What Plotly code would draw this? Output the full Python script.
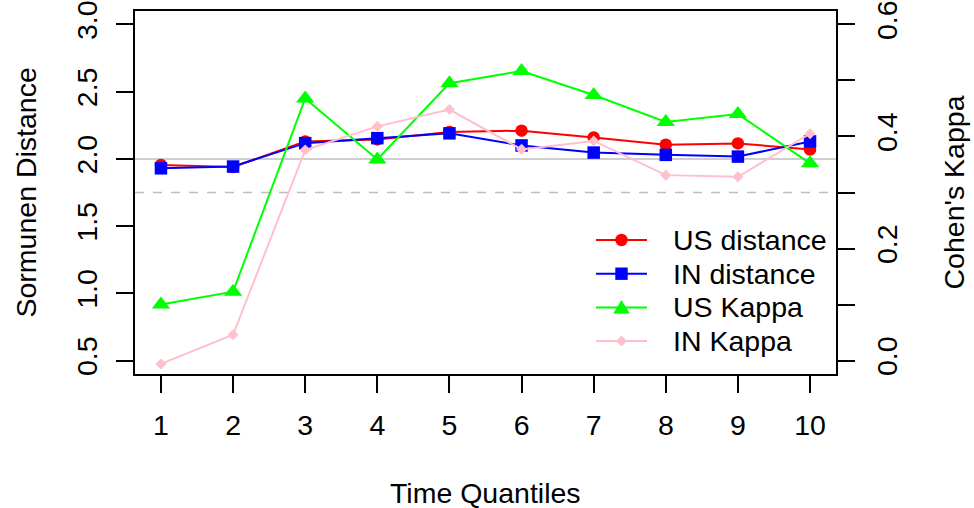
import plotly.graph_objects as go

quantiles = [1, 2, 3, 4, 5, 6, 7, 8, 9, 10]
us_distance = [1.955, 1.94, 2.13, 2.145, 2.20, 2.21, 2.16, 2.105, 2.115, 2.07]
in_distance = [1.93, 1.943, 2.117, 2.154, 2.19, 2.10, 2.047, 2.03, 2.017, 2.13]
us_kappa = [0.10, 0.123, 0.468, 0.359, 0.495, 0.517, 0.474, 0.426, 0.44, 0.352]
in_kappa = [-0.006, 0.046, 0.376, 0.418, 0.448, 0.377, 0.392, 0.331, 0.328, 0.405]
left_ticks = [0.5, 1.0, 1.5, 2.0, 2.5, 3.0]
right_ticks = [0.0, 0.1, 0.2, 0.3, 0.4, 0.5, 0.6]
right_ticklabels = ["0.0", "", "0.2", "", "0.4", "", "0.6"]
solid_ref = 2.0
dashed_ref = 1.75
series_names = ["US distance", "IN distance", "US Kappa", "IN Kappa"]
series_colors = ["#FF0000", "#0000FF", "#00FF00", "#FFC0CB"]

FONT = "Liberation Sans, Arial, sans-serif"
FS = 28.5

# plot area in pixels
L, R, T, B = 135, 836, 11, 374
W, H = R - L, B - T

def px(xp):
    return (xp - L) / W

def py(yp):
    return (B - yp) / H

fig = go.Figure()
fig.add_trace(go.Scatter(x=quantiles, y=us_distance, name=series_names[0], mode="lines+markers",
                         line=dict(color=series_colors[0], width=2),
                         marker=dict(symbol="circle", size=12.5, color=series_colors[0])))
fig.add_trace(go.Scatter(x=quantiles, y=in_distance, name=series_names[1], mode="lines+markers",
                         line=dict(color=series_colors[1], width=2),
                         marker=dict(symbol="square", size=12.5, color=series_colors[1])))
fig.add_trace(go.Scatter(x=quantiles, y=us_kappa, name=series_names[2], mode="lines+markers", yaxis="y2",
                         line=dict(color=series_colors[2], width=2),
                         marker=dict(symbol="triangle-up", size=16, color=series_colors[2])))
fig.add_trace(go.Scatter(x=quantiles, y=in_kappa, name=series_names[3], mode="lines+markers", yaxis="y2",
                         line=dict(color=series_colors[3], width=2),
                         marker=dict(symbol="diamond", size=8.5, color=series_colors[3])))

fig.add_shape(type="line", xref="paper", x0=0, x1=1, yref="y", y0=solid_ref, y1=solid_ref,
              line=dict(color="#BEBEBE", width=1.5), layer="below")
fig.add_shape(type="line", xref="paper", x0=0, x1=1, yref="y", y0=dashed_ref, y1=dashed_ref,
              line=dict(color="#BEBEBE", width=1.5, dash="dash"), layer="below")

# custom legend (R style, no box)
marker_paths = [
    None,  # circle
    "M-6.2,-6.2 L6.2,-6.2 L6.2,6.2 L-6.2,6.2 Z",  # square
    "M-8.3,-6 L8.3,-6 L0,7.5 Z",  # triangle up
    "M0,-5.4 L5.4,0 L0,5.4 L-5.4,0 Z",  # diamond
]
row_y = [240, 273.7, 307.4, 341]
line_x0, line_x1, text_x = 596, 647, 671
annotations = []
for i, name in enumerate(series_names):
    yy = py(row_y[i])
    c = series_colors[i]
    fig.add_shape(type="line", xref="paper", yref="paper", x0=px(line_x0), x1=px(line_x1),
                  y0=yy, y1=yy, line=dict(color=c, width=2))
    xc = px((line_x0 + line_x1) / 2)
    if marker_paths[i] is None:
        fig.add_shape(type="circle", xref="paper", yref="paper", xsizemode="pixel", ysizemode="pixel",
                      xanchor=xc, yanchor=yy, x0=-6.2, x1=6.2, y0=-6.2, y1=6.2,
                      fillcolor=c, line=dict(width=0))
    else:
        fig.add_shape(type="path", xref="paper", yref="paper", xsizemode="pixel", ysizemode="pixel",
                      xanchor=xc, yanchor=yy, path=marker_paths[i],
                      fillcolor=c, line=dict(width=0))
    annotations.append(dict(text=name, xref="paper", yref="paper", x=px(text_x), y=yy,
                            xanchor="left", yanchor="middle", showarrow=False,
                            font=dict(family=FONT, size=FS, color="black")))

axis_common = dict(showgrid=False, zeroline=False, ticks="outside", ticklen=17, tickwidth=1.5,
                   tickcolor="black", tickfont=dict(family=FONT, size=FS, color="black"),
                   automargin=False, ticklabelstandoff=8)

annotations += [
    dict(text="Time Quantiles", xref="paper", yref="paper", x=0.5, y=py(493),
         showarrow=False, yanchor="middle", font=dict(family=FONT, size=FS)),
    dict(text="Sormunen Distance", xref="paper", yref="paper", x=px(25),
         y=0.5, showarrow=False, textangle=-90, xanchor="center", font=dict(family=FONT, size=FS)),
    dict(text="Cohen's Kappa", xref="paper", yref="paper", x=px(953),
         y=0.5, showarrow=False, textangle=-90, xanchor="center", font=dict(family=FONT, size=FS)),
]

fig.update_layout(
    width=974, height=508,
    margin=dict(l=L, r=974 - R, t=T, b=508 - B, autoexpand=False),
    paper_bgcolor="white", plot_bgcolor="white",
    font=dict(family=FONT, size=FS, color="black"),
    showlegend=False,
    xaxis=dict(range=[0.64, 10.36], tickvals=quantiles, showline=True, linecolor="black",
               linewidth=1.5, mirror=True, **axis_common),
    yaxis=dict(range=[0.4, 3.1], tickvals=left_ticks, ticktext=[f"{v:.1f}" for v in left_ticks],
               tickangle=-90, showline=True, linecolor="black", linewidth=1.5, mirror=True,
               **axis_common),
    yaxis2=dict(range=[-0.024, 0.624], overlaying="y", side="right", tickvals=right_ticks,
                ticktext=right_ticklabels, tickangle=-90, showline=True, linecolor="black",
                linewidth=1.5, **axis_common),
    annotations=annotations,
)

fig.write_html("out.html")
